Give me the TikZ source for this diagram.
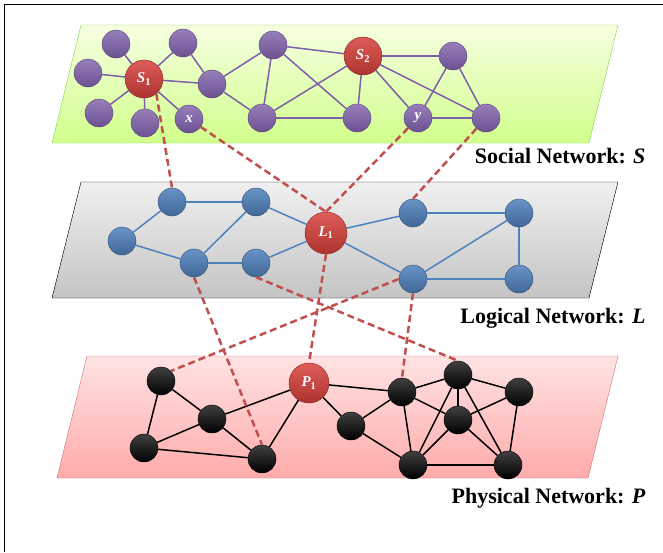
\documentclass[tikz,border=0pt]{standalone}
\usepackage{fontspec}
\setmainfont{Liberation Serif}

\definecolor{socedge}{HTML}{7E5FAA}
\definecolor{logedge}{HTML}{4F81BD}
\definecolor{mapred}{HTML}{C0504D}
\definecolor{hubred}{HTML}{D8403A}

\newcommand{\sub}[1]{\textsubscript{\upshape #1}}

\tikzstyle{member}=[circle,minimum size=28pt,inner sep=0pt,top color=socedge!80!white,bottom color=socedge!85!black,draw=socedge!70!black,thin,text=white,font=\fontsize{15}{15}\selectfont\bfseries\itshape]
\tikzstyle{hub}=[circle,minimum size=38pt,inner sep=0pt,top color=hubred!85!white,bottom color=hubred!80!black,draw=hubred!60!black,thin,text=white,font=\fontsize{15}{15}\selectfont\bfseries\itshape]
\tikzstyle{host}=[circle,minimum size=28pt,inner sep=0pt,top color=logedge!85!white,bottom color=logedge!80!black,draw=logedge!60!black,thin]
\tikzstyle{device}=[circle,minimum size=28pt,inner sep=0pt,top color=black!75,bottom color=black,draw=black]
\tikzstyle{maplink}=[draw=mapred,line width=2.5pt,dash pattern=on 7pt off 4pt]

\begin{document}
\begin{tikzpicture}[x=1pt,y=-1pt]
  \useasboundingbox (0,0) rectangle (663,552);
  \draw[line width=1pt] (4,552) -- (4,4) -- (663,4);

  % the three planes
  \draw[draw=green!50!olive!70,top color=green!30!yellow!12,bottom color=green!40!yellow!45]
    (81,25) -- (618,25) -- (589,143) -- (52,143) -- cycle;
  \draw[draw=black,top color=black!6,bottom color=black!23]
    (81,182) -- (618,182) -- (589,298) -- (52,298) -- cycle;
  \draw[draw=mapred!80,top color=red!11,bottom color=red!33]
    (87,356) -- (618,356) -- (588,478) -- (57,478) -- cycle;

  \node[anchor=east,font=\fontsize{22}{24}\selectfont\bfseries] (labS) at (649,156) {Social Network: \textit{S}};
  \node[anchor=east,font=\fontsize{22}{24}\selectfont\bfseries] (labL) at (649,318) {Logical Network: \textit{L}};
  \node[anchor=east,font=\fontsize{22}{24}\selectfont\bfseries] (labP) at (649,498) {Physical Network: \textit{P}};

  % social network
  \node (s1) [member] at (116,44) {};
  \node (s2) [member] at (88,73) {};
  \node (s3) [member] at (99,113) {};
  \node (s4) [member] at (145,123) {};
  \node (S1) [hub] at (144,79) {S\sub{1}};
  \node (s5) [member] at (183,43) {};
  \node (s6) [member] at (212,84) {};
  \node (x) [member] at (189,119) {x};
  \node (s7) [member] at (273,45) {};
  \node (s8) [member] at (262,118) {};
  \node (s9) [member] at (357,118) {};
  \node (S2) [hub] at (363,56) {S\sub{2}};
  \node (s10) [member] at (453,56) {};
  \node (y) [member] at (418,118) {y};
  \node (s11) [member] at (486,118) {};
  \path[draw=socedge,line width=1.5pt]
  (s1) edge (S1) (s2) edge (S1) (s3) edge (S1) (s4) edge (S1)
  (s5) edge (S1) (S1) edge (s6) (S1) edge (x) (s5) edge (s6)
  (s6) edge (s7) (s6) edge (s8) (s7) edge (s8) (s7) edge (s9)
  (s7) edge (S2) (s8) edge (S2) (s8) edge (s9) (s9) edge (S2)
  (S2) edge (s10) (S2) edge (y) (S2) edge (s11)
  (s10) edge (y) (s10) edge (s11) (y) edge (s11);

  % logical network
  \node (l1) [host] at (172,202) {};
  \node (l2) [host] at (256,202) {};
  \node (l3) [host] at (122,241) {};
  \node (l4) [host] at (194,263) {};
  \node (l5) [host] at (256,263) {};
  \node (L1) [hub,minimum size=42pt] at (326,233) {L\sub{1}};
  \node (l6) [host] at (413,213) {};
  \node (l7) [host] at (519,213) {};
  \node (l8) [host] at (413,279) {};
  \node (l9) [host] at (519,279) {};
  \path[draw=logedge,line width=1.5pt]
  (l3) edge (l1) (l1) edge (l2) (l3) edge (l4) (l4) edge (l2)
  (l4) edge (l5) (l2) edge (L1) (l5) edge (L1) (L1) edge (l6)
  (L1) edge (l8) (l6) edge (l7) (l7) edge (l8) (l8) edge (l9)
  (l7) edge (l9);

  % physical network
  \node (k1) [device] at (161,381) {};
  \node (k2) [device] at (212,419) {};
  \node (k3) [device] at (144,448) {};
  \node (k4) [device] at (262,459) {};
  \node (P1) [hub,minimum size=40pt] at (309,383) {P\sub{1}};
  \node (k5) [device] at (351,426) {};
  \node (k6) [device] at (402,392) {};
  \node (k7) [device] at (458,375) {};
  \node (k8) [device] at (519,392) {};
  \node (k9) [device] at (458,420) {};
  \node (k10) [device] at (413,465) {};
  \node (k11) [device] at (508,465) {};
  \path[draw=black,line width=1.5pt]
  (k1) edge (k2) (k1) edge (k3) (k3) edge (k2) (k3) edge (k4)
  (k2) edge (k4) (k2) edge (P1) (k4) edge (P1) (P1) edge (k5)
  (P1) edge (k6) (k6) edge (k7) (k5) edge (k6) (k5) edge (k10)
  (k6) edge (k9) (k6) edge (k10) (k7) edge (k10) (k7) edge (k9)
  (k7) edge (k8) (k7) edge (k11) (k9) edge (k8) (k9) edge (k10)
  (k9) edge (k11) (k8) edge (k11) (k10) edge (k11);

  % mappings between layers
  \path[maplink]
  (S1.-50) edge (l1.north)
  (x) edge (L1.north)
  (y) edge (L1.north)
  (s11) edge (l6.north)
  (l4.south) edge (k4.north)
  (l5.south) edge (k7.north)
  (L1.south) edge (P1.north)
  (l8.west) edge (k1.north east)
  (l8.south) edge (k6.north);
\end{tikzpicture}
\end{document}
